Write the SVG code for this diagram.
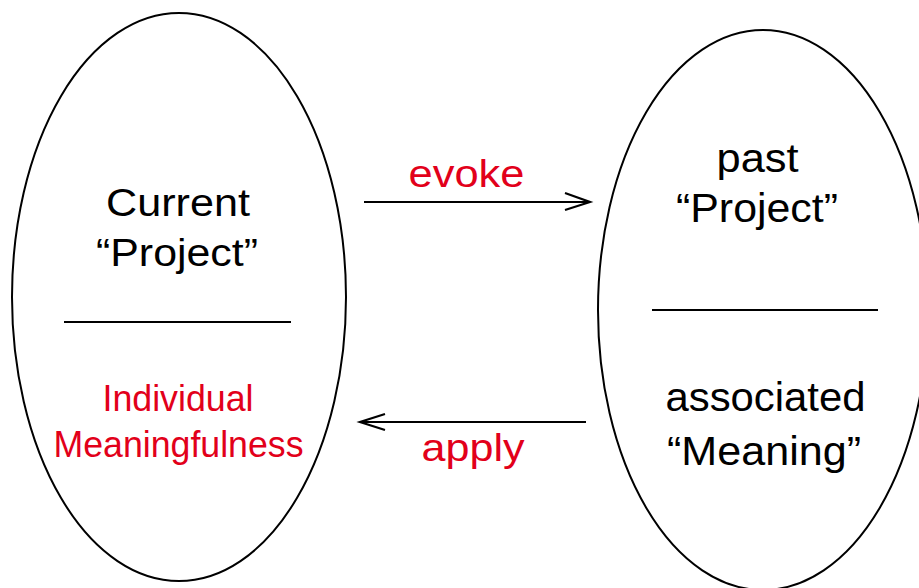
<svg xmlns="http://www.w3.org/2000/svg" width="919" height="588" viewBox="0 0 919 588">
<style>
.shape{fill:#fff;stroke:#000;stroke-width:2}
.sep{stroke:#000;stroke-width:2.2}
.t{font-family:"Liberation Sans",Arial,sans-serif;text-anchor:middle;fill:#000}
.r{fill:#e2001a}
.conn{stroke:#000;stroke-width:2.2;fill:none}
</style>
<rect width="919" height="588" fill="#fff"/>
<g id="node-current">
<ellipse class="shape" cx="179" cy="297" rx="167" ry="284"/>
<text class="t" x="178" y="216" font-size="39" textLength="144" lengthAdjust="spacingAndGlyphs">Current</text>
<text class="t" x="177" y="266" font-size="39" textLength="162" lengthAdjust="spacingAndGlyphs">“Project”</text>
<line class="sep" x1="64" y1="322" x2="291" y2="322"/>
<text class="t r" x="178" y="411" font-size="36" textLength="151" lengthAdjust="spacingAndGlyphs">Individual</text>
<text class="t r" x="178.5" y="457" font-size="36" textLength="250" lengthAdjust="spacingAndGlyphs">Meaningfulness</text>
</g>
<g id="node-past">
<ellipse class="shape" cx="763" cy="310" rx="165" ry="280"/>
<text class="t" x="757.5" y="172" font-size="40" textLength="82" lengthAdjust="spacingAndGlyphs">past</text>
<text class="t" x="757" y="222" font-size="40" textLength="162" lengthAdjust="spacingAndGlyphs">“Project”</text>
<line class="sep" x1="652" y1="310" x2="878" y2="310"/>
<text class="t" x="765.5" y="411" font-size="41" textLength="200" lengthAdjust="spacingAndGlyphs">associated</text>
<text class="t" x="764" y="465" font-size="41" textLength="194" lengthAdjust="spacingAndGlyphs">“Meaning”</text>
</g>
<g id="connectors">
<g id="edge-evoke">
<line class="conn" x1="364" y1="202" x2="589" y2="202"/>
<polyline class="conn" points="565,193 590,202 565,210"/>
<text class="t r" x="466.5" y="187" font-size="39" textLength="116" lengthAdjust="spacingAndGlyphs">evoke</text>
</g>
<g id="edge-apply">
<line class="conn" x1="586" y1="422" x2="361" y2="422"/>
<polyline class="conn" points="385,414 360,422 385,430"/>
<text class="t r" x="473" y="461" font-size="39" textLength="103" lengthAdjust="spacingAndGlyphs">apply</text>
</g>
</g>
</svg>
